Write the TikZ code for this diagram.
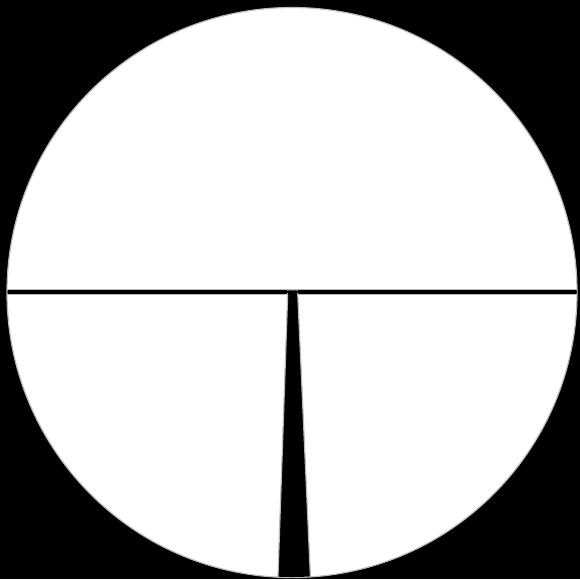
\documentclass[tikz,border=0pt]{standalone}
\begin{document}
\begin{tikzpicture}[x=0.75pt,y=-0.75pt,
  edge/.style={draw=gray!55,line width=0.9pt},
  gap/.style={fill=black}]
\fill[black] (0,0) rectangle (580,579);
\useasboundingbox (0,0) rectangle (580,579);
\fill[white,edge] (292,292.5) circle[radius=285];
\begin{scope}
\clip (292,292.5) circle[radius=284.5];
\path[gap,edge] (0,289.8) rectangle (580,294.2);
\path[gap,edge] (287.8,291) -- (297.6,291) -- (311,590) -- (277.5,590) -- cycle;
\fill[black] (0,290.6) rectangle (580,293.4);
\fill[black] (288.3,290.6) -- (297.1,290.6) -- (297.2,295) -- (288.2,295) -- cycle;
\end{scope}
\end{tikzpicture}
\end{document}
